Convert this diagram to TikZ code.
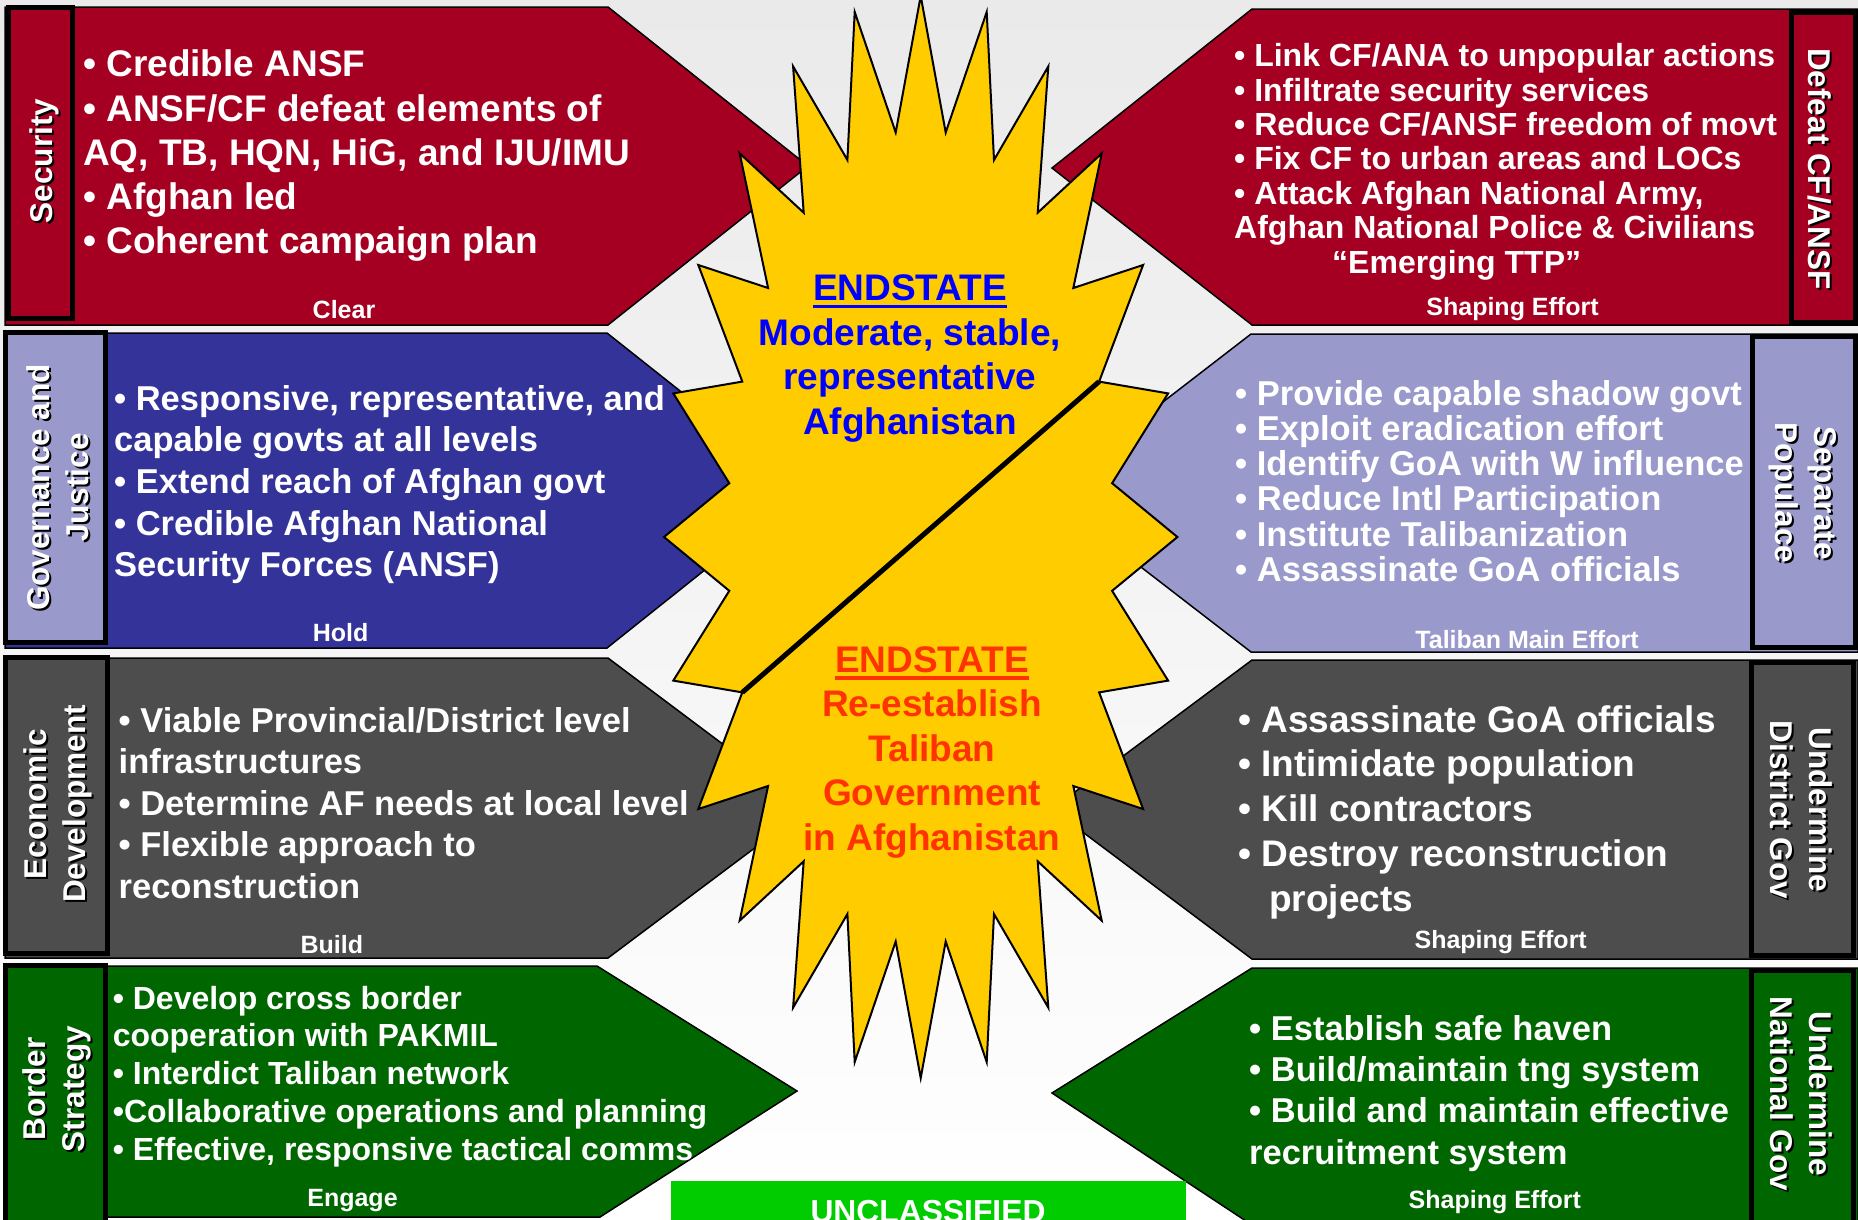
\documentclass[tikz,border=0pt]{standalone}
\usepackage{fontspec}
\setmainfont{Liberation Sans}
\definecolor{secred}{HTML}{A50021}
\definecolor{govblue}{HTML}{333399}
\definecolor{lav}{HTML}{9999CC}
\definecolor{ecogray}{HTML}{4D4D4D}
\definecolor{bordgreen}{HTML}{006600}
\definecolor{staryel}{HTML}{FFCC00}
\definecolor{endblue}{HTML}{0000FF}
\definecolor{endred}{HTML}{FF3300}
\definecolor{unclgreen}{HTML}{00CC00}
\definecolor{bgtop}{HTML}{EAEAEA}
\newcommand\fs[2]{\fontsize{#1pt}{#2pt}\selectfont}
\newsavebox\ulbox
\newcommand\ulword[1]{\sbox\ulbox{#1}\rlap{\rule[-7.5pt]{\wd\ulbox}{3.5pt}}\usebox\ulbox}
% multi-line nodes below are anchored at the baseline of their last line
\tikzset{
  panel/.style={draw=black, line width=1.5pt, line join=miter},
  tagbox/.style={draw=black, line width=5pt},
  bullets/.style={text=white, font=\bfseries, align=left, anchor=base west, inner sep=0pt},
  phase/.style={text=white, font=\bfseries\fs{25}{30}, anchor=base, inner sep=0pt},
  tag/.style={text=white, font=\bfseries\fs{31.5}{39}, align=center, inner sep=0pt},
  tagshadow/.style={tag, text=black},
  endtext/.style={font=\bfseries\fs{37}{44.6}, align=center, anchor=base, inner sep=0pt}
}
\begin{document}
\begin{tikzpicture}[x=1pt, y=-1pt]
\useasboundingbox (0,0) rectangle (1858,1219);
\clip (0,0) rectangle (1858,1219);
% background
\fill[top color=bgtop, bottom color=white] (0,0) rectangle (1858,1219);

% ---------- left column: coalition lines of effort ----------
\fill[secred, panel] (5,7) -- (608,7) -- (808,166) -- (608,325) -- (5,325) -- cycle;
\fill[govblue, panel] (5,333) -- (607,333) -- (805,490) -- (607,648) -- (5,648) -- cycle;
\fill[ecogray, panel] (5,658) -- (608,658) -- (808,808) -- (608,958) -- (5,958) -- cycle;
\fill[bordgreen, panel] (5,966) -- (597,966) -- (797,1091) -- (600,1217) -- (5,1217) -- cycle;

% ---------- right column: Taliban lines of effort ----------
\fill[secred, panel] (1252,9) -- (1858,9) -- (1858,325) -- (1252,325) -- (1052,168) -- cycle;
\fill[lav, panel] (1251,334) -- (1858,334) -- (1858,652) -- (1251,652) -- (1045,493) -- cycle;
\fill[ecogray, panel] (1252,660) -- (1858,660) -- (1858,959) -- (1252,959) -- (1052,809) -- cycle;
\fill[bordgreen, panel] (1252,968) -- (1858,968) -- (1858,1225) -- (1252,1225) -- (1052,1093) -- cycle;

% ---------- title boxes ----------
\fill[secred, tagbox] (8.5,7.5) rectangle (72.5,318.5);
\fill[lav, tagbox] (5.5,332.5) rectangle (105.5,642.5);
\fill[ecogray, tagbox] (5.5,657.5) rectangle (107.5,953.5);
\fill[bordgreen, tagbox] (5.5,965.5) rectangle (105.5,1224);
\fill[secred, tagbox] (1791.5,12.5) rectangle (1855.5,322.5);
\fill[lav, tagbox] (1752.5,336.5) rectangle (1855.5,647.5);
\fill[ecogray, tagbox] (1751.5,662.5) rectangle (1853.5,955);
\fill[bordgreen, tagbox] (1751.5,970.5) rectangle (1853.5,1224);

% rotated titles with drop shadow
\node[tagshadow, rotate=90] (t-sec-sh) at (46,163) {Security};
\node[tag, rotate=90] (t-sec) at (44,161) {Security};
\node[tagshadow, rotate=90] (t-gov-sh) at (60,489.5) {Governance and\\Justice};
\node[tag, rotate=90] (t-gov) at (58,487.5) {Governance and\\Justice};
\node[tagshadow, rotate=90] (t-eco-sh) at (60,806) {Economic\\Development};
\node[tag, rotate=90] (t-eco) at (58,804) {Economic\\Development};
\node[tagshadow, rotate=90] (t-bor-sh) at (59,1091) {Border\\Strategy};
\node[tag, rotate=90] (t-bor) at (57,1089) {Border\\Strategy};
\node[tagshadow, rotate=-90] (t-def-sh) at (1822,171) {Defeat CF/ANSF};
\node[tag, rotate=-90] (t-def) at (1820,169) {Defeat CF/ANSF};
\node[tagshadow, rotate=-90] (t-sep-sh) at (1804.5,495) {Separate\\Populace};
\node[tag, rotate=-90] (t-sep) at (1802.5,493) {Separate\\Populace};
\node[tagshadow, rotate=-90] (t-dis-sh) at (1803,812) {Undermine\\District Gov};
\node[tag, rotate=-90] (t-dis) at (1801,810) {Undermine\\District Gov};
\node[tagshadow, rotate=-90] (t-nat-sh) at (1803,1096) {Undermine\\National Gov};
\node[tag, rotate=-90] (t-nat) at (1801,1094) {Undermine\\National Gov};

% ---------- bullet lists ----------
\node[bullets, font=\bfseries\fs{37}{44.3}] (b-sec) at (83,253.9)
  {• Credible ANSF\\• ANSF/CF defeat elements of\\AQ, TB, HQN, HiG, and IJU/IMU\\• Afghan led\\• Coherent campaign plan};
\node[bullets, font=\bfseries\fs{34.5}{41.7}] (b-gov) at (114,576.8)
  {• Responsive, representative, and\\capable govts at all levels\\• Extend reach of Afghan govt\\• Credible Afghan National\\Security Forces (ANSF)};
\node[bullets, font=\bfseries\fs{34.5}{41.5}] (b-eco) at (118.5,898.3)
  {• Viable Provincial/District level\\infrastructures\\• Determine AF needs at local level\\• Flexible approach to\\reconstruction};
\node[bullets, font=\bfseries\fs{32}{37.9}] (b-bor) at (112.6,1160.6)
  {• Develop cross border\\cooperation with PAKMIL\\• Interdict Taliban network\\•Collaborative operations and planning\\• Effective, responsive tactical comms};
\node[bullets, font=\bfseries\fs{32}{34.4}] (b-def) at (1234,273.1)
  {• Link CF/ANA to unpopular actions\\• Infiltrate security services\\• Reduce CF/ANSF freedom of movt\\• Fix CF to urban areas and LOCs\\• Attack Afghan National Army,\\Afghan National Police \& Civilians\\\hspace*{98pt}“Emerging TTP”};
\node[bullets, font=\bfseries\fs{34.5}{35.3}] (b-sep) at (1235,581.5)
  {• Provide capable shadow govt\\• Exploit eradication effort\\• Identify GoA with W influence\\• Reduce Intl Participation\\• Institute Talibanization\\• Assassinate GoA officials};
\node[bullets, font=\bfseries\fs{37}{44.8}] (b-dis) at (1238,911.2)
  {• Assassinate GoA officials\\• Intimidate population\\• Kill contractors\\• Destroy reconstruction\\\hspace*{31pt}projects};
\node[bullets, font=\bfseries\fs{34.5}{41.1}] (b-nat) at (1249,1164)
  {• Establish safe haven\\• Build/maintain tng system\\• Build and maintain effective\\recruitment system};

% phase captions
\node[phase] (p-clear) at (344,318) {Clear};
\node[phase] (p-hold) at (340.6,641) {Hold};
\node[phase] (p-build) at (331.8,953) {Build};
\node[phase] (p-engage) at (352.5,1206) {Engage};
\node[phase] (p-def) at (1512.5,315) {Shaping Effort};
\node[phase] (p-sep) at (1527,648) {Taliban Main Effort};
\node[phase] (p-dis) at (1500.7,948) {Shaping Effort};
\node[phase] (p-nat) at (1494.8,1208) {Shaping Effort};

% ---------- central burst ----------
\begin{scope}[shift={(920.7,537)}]
\coordinate (burst) at (0,0);
\coordinate (split-a) at (178.4,-155.4);
\coordinate (split-b) at (-178.4,155.4);
\filldraw[fill=staryel, draw=black, line width=2pt, line join=miter]
  (0,-541) -- (25,-404.5) -- (66,-525) -- (73.3,-377) -- (127.6,-470.6) -- (117,-324.3)
  -- (181,-383.6) -- (152.6,-249) -- (222.4,-272) -- (178.4,-155.4) -- (247.4,-143.6)
  -- (191.4,-53.8) -- (256.7,0)
  -- (191.4,53.8) -- (247.4,143.6) -- (178.4,155.4) -- (222.4,272) -- (152.6,249)
  -- (181,383.6) -- (117,324.3) -- (127.6,470.6) -- (73.3,377) -- (66,525) -- (25,404.5)
  -- (0,541)
  -- (-25,404.5) -- (-66,525) -- (-73.3,377) -- (-127.6,470.6) -- (-117,324.3)
  -- (-181,383.6) -- (-152.6,249) -- (-222.4,272) -- (-178.4,155.4) -- (-247.4,143.6)
  -- (-191.4,53.8) -- (-256.7,0)
  -- (-191.4,-53.8) -- (-247.4,-143.6) -- (-178.4,-155.4) -- (-222.4,-272) -- (-152.6,-249)
  -- (-181,-383.6) -- (-117,-324.3) -- (-127.6,-470.6) -- (-73.3,-377) -- (-66,-525)
  -- (-25,-404.5) -- cycle;
\end{scope}
\draw[black, line width=5pt] (split-a) -- (split-b);

\node[endtext, text=endblue] (end-top) at (910,434.3)
  {\ulword{ENDSTATE}\\Moderate, stable,\\representative\\Afghanistan};
\node[endtext, text=endred] (end-bot) at (932,850.4)
  {\ulword{ENDSTATE}\\Re-establish\\Taliban\\Government\\in Afghanistan};

% classification banner
\fill[unclgreen] (671,1181) rectangle (1186,1225);
\node[text=white, font=\bfseries\fs{31.8}{36}, anchor=base, inner sep=0pt] (uncl) at (928,1222) {UNCLASSIFIED};
\end{tikzpicture}
\end{document}
